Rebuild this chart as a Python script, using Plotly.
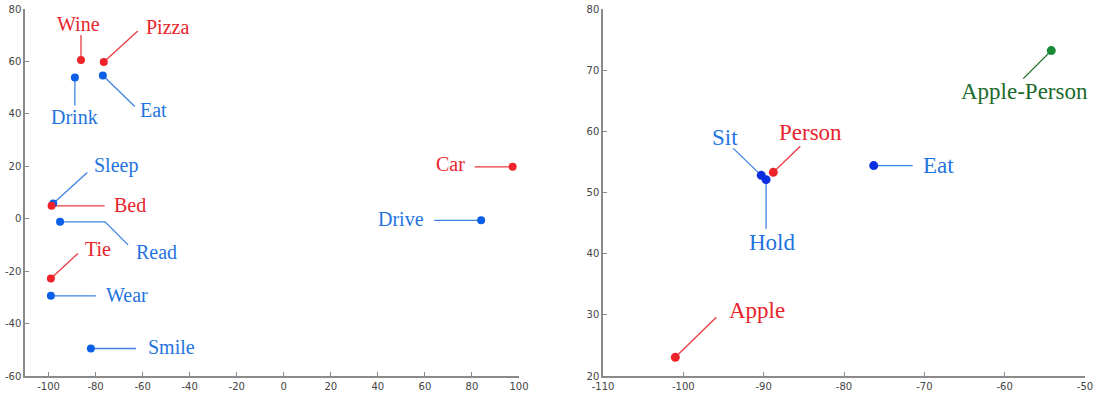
import plotly.graph_objects as go

# ---------------- data ----------------
left_words = ["Wine", "Pizza", "Drink", "Eat", "Sleep", "Bed", "Read", "Tie", "Wear", "Smile", "Car", "Drive"]
left_x = [-86.2, -76.5, -88.8, -76.9, -98.0, -98.7, -95.1, -99.0, -99.0, -82.0, 97.3, 83.9]
left_y = [60.5, 59.8, 53.9, 54.6, 5.8, 4.9, -1.2, -22.8, -29.4, -49.5, 19.8, -0.6]
left_kind = ["noun", "noun", "verb", "verb", "verb", "noun", "verb", "noun", "verb", "verb", "noun", "verb"]

right_words = ["Sit", "Hold", "Person", "Eat", "Apple-Person", "Apple"]
right_x = [-90.3, -89.7, -88.8, -76.3, -54.2, -101.0]
right_y = [52.8, 52.1, 53.3, 54.4, 73.2, 23.05]
right_kind = ["verb", "verb", "noun", "verb", "combo", "noun"]

left_xticks = [-100, -80, -60, -40, -20, 0, 20, 40, 60, 80, 100]
left_yticks = [-60, -40, -20, 0, 20, 40, 60, 80]
right_xticks = [-110, -100, -90, -80, -70, -60, -50]
right_yticks = [20, 30, 40, 50, 60, 70, 80]

# ---------------- styles ----------------
text_col = {"noun": "#e8242c", "verb": "#1f74e0", "combo": "#1c6b2c"}
dot_col_left = {"noun": "#f0232b", "verb": "#0a5fe6"}
dot_col_right = {"noun": "#f0232b", "verb": "#0b2fe0", "combo": "#168a34"}
line_col = {"noun": "#ec3a40", "verb": "#3d83e2", "combo": "#1c6b2c"}

# label placement: (dx, dy, xanchor, leader path) in screen pixels, dy down positive
left_place = {
    "Wine": (-2, -36, "center", [(0, 0), (0, -25)]),
    "Pizza": (40, -35, "left", [(0, 0), (34, -31)]),
    "Drink": (0, 40, "center", [(0, 0), (0, 28)]),
    "Eat": (35, 34, "left", [(0, 0), (32, 31)]),
    "Sleep": (39, -38, "left", [(0, 0), (34, -31)]),
    "Bed": (60, -1, "left", [(0, 0), (53, 0)]),
    "Read": (74, 30, "left", [(0, 0), (45, 0), (68, 23)]),
    "Tie": (32, -29, "left", [(0, 0), (27, -25)]),
    "Wear": (53, -1, "left", [(0, 0), (45, 0)]),
    "Smile": (55, -1, "left", [(0, 0), (45, 0)]),
    "Car": (-46, -3, "right", [(0, 0), (-38, 0)]),
    "Drive": (-55, -1, "right", [(0, 0), (-47, 0)]),
}
right_place = {
    "Sit": (-36, -38, "center", [(0, 0), (-28, -27)]),
    "Hold": (6, 63, "center", [(0, 0), (0, 49)]),
    "Person": (37, -40, "center", [(0, 0), (27, -26)]),
    "Eat": (47, 0, "left", [(0, 0), (39, 0)]),
    "Apple-Person": (-27, 41, "center", [(0, 0), (-28, 28)]),
    "Apple": (52, -47, "left", [(0, 0), (41, -40)]),
}

W, H = 1097, 394
fig = go.Figure()

fig.add_trace(go.Scatter(
    x=left_x, y=left_y, mode="markers", xaxis="x", yaxis="y",
    marker=dict(size=8, color=[dot_col_left[k] for k in left_kind]),
    hoverinfo="text", text=left_words, showlegend=False))
fig.add_trace(go.Scatter(
    x=right_x, y=right_y, mode="markers", xaxis="x2", yaxis="y2",
    marker=dict(size=9, color=[dot_col_right[k] for k in right_kind]),
    hoverinfo="text", text=right_words, showlegend=False))

def add_labels(words, xs, ys, kinds, place, xref, yref, fsize):
    for w, x, y, k in zip(words, xs, ys, kinds):
        dx, dy, anc, path = place[w]
        d = "M" + " L".join(f"{px},{-py}" for px, py in path)
        fig.add_shape(type="path", path=d, xref=xref, yref=yref,
                      xsizemode="pixel", ysizemode="pixel",
                      xanchor=x, yanchor=y, layer="below",
                      line=dict(color=line_col[k], width=1.3))
        fig.add_annotation(x=x, y=y, xref=xref, yref=yref, text=w,
                           showarrow=False, xanchor=anc, yanchor="middle",
                           xshift=dx, yshift=-dy,
                           font=dict(family="Liberation Serif", size=fsize,
                                     color=text_col[k]))

add_labels(left_words, left_x, left_y, left_kind, left_place, "x", "y", 20)
add_labels(right_words, right_x, right_y, right_kind, right_place, "x2", "y2", 23)

axis_common = dict(showline=True, linecolor="#8a8a8a", linewidth=1.5,
                   ticks="inside", ticklen=4, tickcolor="#8a8a8a", tickwidth=1,
                   showgrid=False, zeroline=False, mirror=False,
                   tickfont=dict(family="DejaVu Sans", size=10, color="#444444"),
                   automargin=False)

def labels(vals):
    return [str(v) for v in vals]

top, bottom = 1 - 9 / H, 1 - 376 / H
fig.update_layout(
    width=W, height=H, margin=dict(l=0, r=0, t=0, b=0),
    paper_bgcolor="white", plot_bgcolor="white",
    xaxis=dict(domain=[25 / W, 519 / W], range=[-110, 100], tickvals=left_xticks,
               ticktext=labels(left_xticks), anchor="y", **axis_common),
    yaxis=dict(domain=[bottom, top], range=[-60, 80], tickvals=left_yticks,
               ticktext=labels(left_yticks), anchor="x", **axis_common),
    xaxis2=dict(domain=[603 / W, 1085 / W], range=[-110, -50], tickvals=right_xticks,
                ticktext=labels(right_xticks), anchor="y2", **axis_common),
    yaxis2=dict(domain=[bottom, top], range=[20, 80], tickvals=right_yticks,
                ticktext=labels(right_yticks), anchor="x2", **axis_common),
)

fig.write_html("out.html", config={"displayModeBar": False},
               post_script="document.body.style.margin='0';document.body.style.overflow='hidden';")
